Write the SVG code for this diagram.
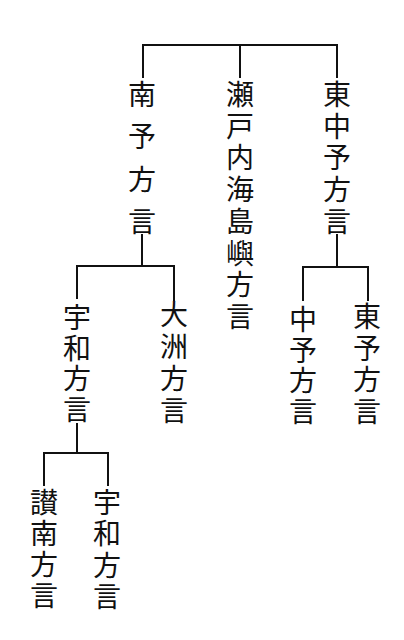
<svg xmlns="http://www.w3.org/2000/svg" width="404" height="640" viewBox="0 0 404 640">
<style>
.c{fill:none;stroke:#111;stroke-width:2;stroke-linecap:square}
.t{font-family:"Noto Sans CJK JP","Noto Sans CJK SC",sans-serif;font-size:28px;fill:#111;text-anchor:middle;dominant-baseline:central}
</style>
<rect width="404" height="640" fill="#fff"/>
<g id="connectors">
<path class="c" d="M143 77V45H337V77M240 45V77"/>
<path class="c" d="M142 235V266M77 298V266H174V300"/>
<path class="c" d="M337 235V267M303 300V267H368V300"/>
<path class="c" d="M77 424V453M44 485V453H108V485"/>
</g>
<g id="nanyo">
<text class="t"><tspan x="142" y="93">南</tspan><tspan x="142" y="135.3">予</tspan><tspan x="142" y="177.6">方</tspan><tspan x="142" y="220">言</tspan></text>
</g>
<g id="setonaikai">
<text class="t"><tspan x="240" y="93">瀬</tspan><tspan x="240" y="124.7">戸</tspan><tspan x="240" y="156.4">内</tspan><tspan x="240" y="188.1">海</tspan><tspan x="240" y="219.8">島</tspan><tspan x="240" y="251.5">嶼</tspan><tspan x="240" y="283.2">方</tspan><tspan x="240" y="314.9">言</tspan></text>
</g>
<g id="tochuyo">
<text class="t"><tspan x="337" y="93">東</tspan><tspan x="337" y="124.7">中</tspan><tspan x="337" y="156.4">予</tspan><tspan x="337" y="188.1">方</tspan><tspan x="337" y="219.8">言</tspan></text>
</g>
<g id="uwa1">
<text class="t"><tspan x="77" y="316">宇</tspan><tspan x="77" y="346.7">和</tspan><tspan x="77" y="377.4">方</tspan><tspan x="77" y="408">言</tspan></text>
</g>
<g id="ozu">
<text class="t"><tspan x="174" y="313">大</tspan><tspan x="174" y="345">洲</tspan><tspan x="174" y="377">方</tspan><tspan x="174" y="409">言</tspan></text>
</g>
<g id="chuyo">
<text class="t"><tspan x="303" y="318">中</tspan><tspan x="303" y="348.7">予</tspan><tspan x="303" y="379.4">方</tspan><tspan x="303" y="410">言</tspan></text>
</g>
<g id="toyo">
<text class="t"><tspan x="367" y="315">東</tspan><tspan x="367" y="346.7">予</tspan><tspan x="367" y="378.4">方</tspan><tspan x="367" y="410">言</tspan></text>
</g>
<g id="sannan">
<text class="t"><tspan x="44" y="501">讃</tspan><tspan x="44" y="532">南</tspan><tspan x="44" y="563">方</tspan><tspan x="44" y="594">言</tspan></text>
</g>
<g id="uwa2">
<text class="t"><tspan x="107" y="501">宇</tspan><tspan x="107" y="532.3">和</tspan><tspan x="107" y="563.6">方</tspan><tspan x="107" y="595">言</tspan></text>
</g>
</svg>
